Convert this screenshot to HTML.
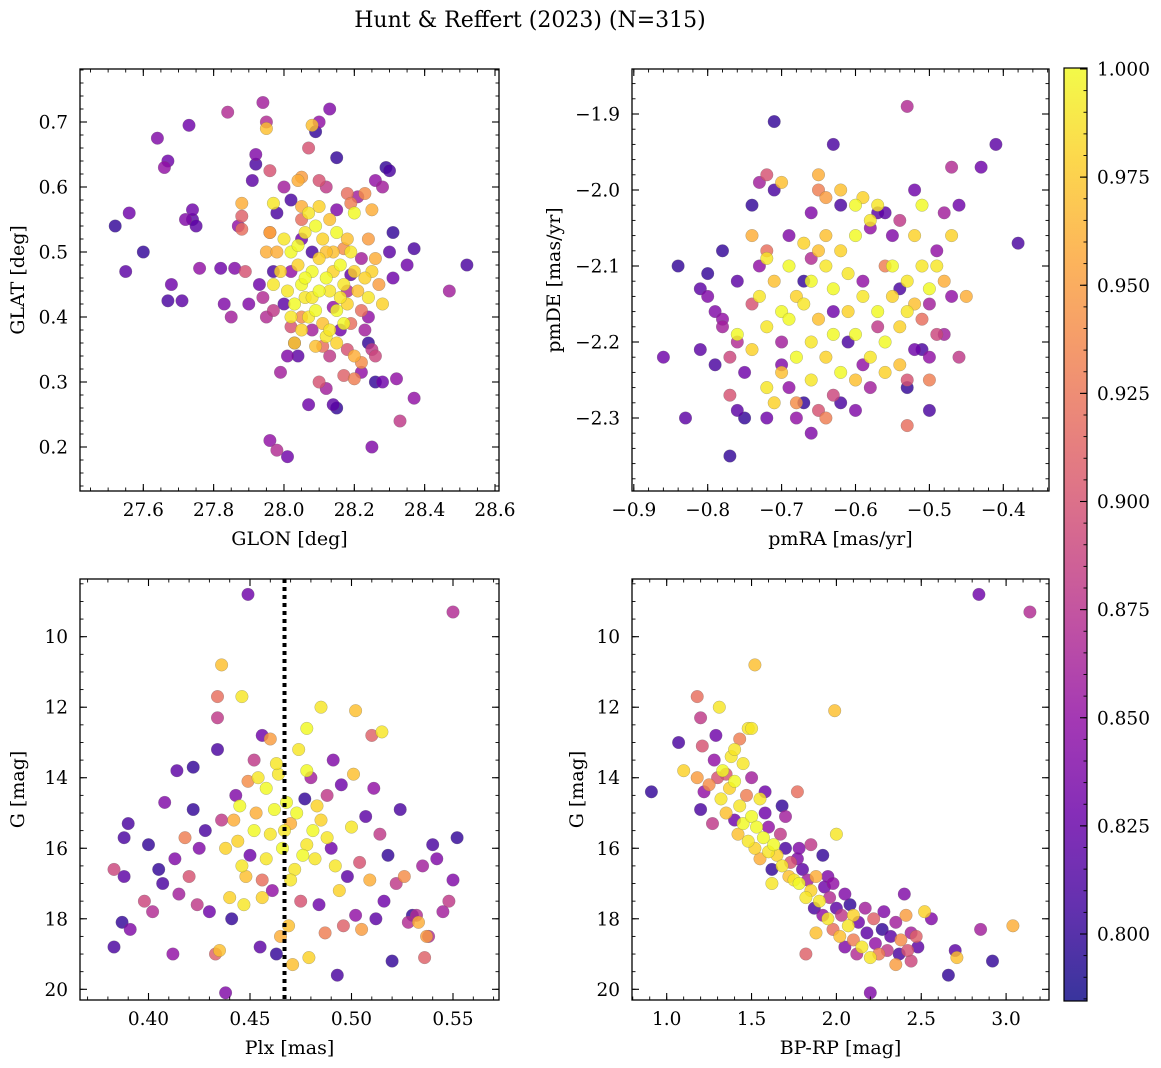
<!DOCTYPE html>
<html><head><meta charset="utf-8">
<style>
body{margin:0;background:#fff;}
svg{display:block;font-family:"DejaVu Serif","Liberation Serif",serif;}
</style></head>
<body>
<svg id="fig" width="1161" height="1068" viewBox="0 0 1161 1068">
<text x="530" y="27" text-anchor="middle" font-size="22">Hunt &amp; Reffert (2023) (N=315)</text>
</svg>
<script>
// ---- Panel 1: GLON vs GLAT ----
const p1Glon=[27.52,27.55,27.56,27.60,27.64,27.66,27.67,27.68,27.67,27.71,27.72,27.73,27.74,27.74,27.75,27.76,27.82,27.83,27.84,27.85,27.86,27.87,27.88,27.88,27.88,27.89,27.90,27.91,27.92,27.92,27.94,27.95,27.95,27.95,27.95,27.96,27.96,27.97,27.97,27.96,27.98,28.01,27.99,28.01,28.03,28.04,28.05,28.07,28.08,28.09,28.10,28.13,28.15,28.14,28.15,28.07,28.10,28.12,28.25,28.26,28.28,28.32,28.33,28.37,28.47,28.52,28.37,28.35,28.29,28.30,28.26,28.28,28.23,28.21,28.19,28.18,28.20,28.25,28.31,28.30,28.31,28.24,28.25,28.27,28.28,28.22,28.23,28.25,28.22,28.20,28.18,28.15,28.16,28.19,28.22,28.24,28.26,
28.00,28.02,28.05,28.10,28.12,28.15,28.05,27.98,28.02,28.00,28.05,28.08,28.11,28.13,28.17,28.20,28.04,28.02,27.93,27.94,27.97,28.19,28.22,28.17,28.14,28.18,28.24,28.08,
28.00,28.02,28.04,28.05,28.06,28.08,28.10,28.12,28.13,28.14,28.16,28.17,28.18,28.09,28.07,28.11,28.03,28.01,27.99,27.98,28.06,28.09,28.11,28.13,28.15,28.19,28.20,28.21,28.15,28.12,28.05,28.02,28.10,28.08,28.06,28.14,28.16,28.04,28.12,27.96,27.97,28.23,28.18,28.07,28.10,28.05,28.17,28.13,28.03,28.09,28.24,28.26];
const p1Glat=[0.54,0.47,0.56,0.50,0.675,0.63,0.64,0.45,0.425,0.425,0.55,0.695,0.55,0.565,0.54,0.475,0.475,0.42,0.715,0.40,0.475,0.54,0.575,0.555,0.535,0.47,0.42,0.61,0.65,0.635,0.73,0.69,0.70,0.50,0.40,0.625,0.53,0.575,0.47,0.21,0.195,0.185,0.315,0.34,0.36,0.61,0.615,0.66,0.695,0.685,0.70,0.72,0.645,0.265,0.26,0.265,0.30,0.29,0.20,0.30,0.30,0.305,0.24,0.275,0.44,0.48,0.505,0.48,0.63,0.625,0.61,0.60,0.59,0.585,0.575,0.59,0.56,0.565,0.53,0.50,0.46,0.52,0.47,0.45,0.42,0.41,0.38,0.35,0.33,0.34,0.35,0.36,0.38,0.39,0.315,0.36,0.34,
0.60,0.58,0.55,0.61,0.60,0.565,0.52,0.56,0.47,0.42,0.40,0.38,0.355,0.34,0.31,0.305,0.34,0.385,0.45,0.43,0.41,0.465,0.49,0.505,0.415,0.44,0.40,0.50,
0.52,0.50,0.48,0.45,0.43,0.47,0.49,0.46,0.44,0.50,0.48,0.45,0.42,0.41,0.40,0.39,0.42,0.44,0.47,0.50,0.53,0.54,0.52,0.55,0.53,0.50,0.47,0.44,0.41,0.37,0.38,0.40,0.44,0.43,0.46,0.47,0.43,0.51,0.50,0.53,0.45,0.46,0.52,0.56,0.57,0.57,0.39,0.38,0.36,0.355,0.43,0.49];
const p1Prob=[0.80,0.82,0.83,0.80,0.84,0.85,0.83,0.83,0.81,0.82,0.84,0.83,0.82,0.83,0.82,0.85,0.83,0.84,0.87,0.86,0.84,0.85,0.96,0.91,0.92,0.90,0.84,0.82,0.84,0.81,0.86,0.97,0.87,0.96,0.87,0.90,0.95,0.99,0.81,0.85,0.87,0.83,0.86,0.84,0.86,0.96,0.95,0.90,0.97,0.80,0.85,0.84,0.80,0.82,0.80,0.83,0.90,0.86,0.84,0.80,0.83,0.85,0.88,0.85,0.86,0.81,0.81,0.83,0.80,0.81,0.85,0.86,0.94,0.86,0.93,0.92,1.0,0.96,0.80,0.82,0.83,0.95,0.98,0.95,0.98,0.92,0.86,0.88,0.94,0.96,0.90,0.98,0.83,0.92,0.85,0.80,0.89,
0.86,0.81,0.92,0.90,0.88,0.84,0.83,0.81,0.85,0.82,0.94,0.86,0.92,0.88,0.91,0.93,0.82,0.90,0.83,0.87,0.88,0.82,0.86,0.94,0.85,0.87,0.85,0.81,
0.99,1.0,0.98,1.0,0.99,1.0,0.98,1.0,0.99,0.97,1.0,0.99,0.98,1.0,0.99,0.97,1.0,0.99,0.98,0.96,0.99,1.0,0.98,0.97,1.0,0.99,0.98,0.97,1.0,0.99,0.98,0.99,1.0,0.99,1.0,0.98,0.99,1.0,0.97,0.95,0.99,0.98,0.97,0.99,0.98,0.96,1.0,0.99,0.98,0.97,0.99,0.96];

// ---- Panel 2: pmRA vs pmDE ----
const p2PmRA=[-0.86,-0.84,-0.83,-0.81,-0.80,-0.80,-0.81,-0.79,-0.78,-0.78,-0.78,-0.77,-0.77,-0.76,-0.76,-0.75,-0.74,-0.73,-0.72,-0.71,-0.71,-0.70,-0.70,-0.69,-0.68,-0.67,-0.66,-0.65,-0.64,-0.65,-0.65,-0.64,-0.63,-0.62,-0.60,-0.59,-0.58,-0.57,-0.56,-0.54,-0.53,-0.53,-0.52,-0.53,-0.50,-0.49,-0.48,-0.47,-0.46,-0.43,-0.41,-0.38,-0.45,-0.46,-0.47,-0.47,-0.48,-0.50,-0.51,-0.49,-0.50,
-0.72,-0.70,-0.68,-0.66,-0.64,-0.62,-0.60,-0.58,-0.62,-0.60,-0.57,-0.59,-0.55,-0.53,-0.52,-0.50,-0.51,-0.54,-0.56,-0.58,-0.60,-0.62,-0.64,-0.66,-0.68,-0.70,-0.72,-0.71,-0.69,-0.67,-0.65,-0.63,-0.61,-0.59,-0.57,-0.55,-0.53,-0.65,-0.63,-0.61,-0.74,-0.76,-0.73,-0.71,-0.69,-0.67,-0.74,-0.72,-0.60,-0.56,-0.66,-0.64,-0.52,-0.51,-0.49,-0.48,
-0.76,-0.74,-0.73,-0.72,-0.75,-0.70,-0.69,-0.67,-0.66,-0.63,-0.61,-0.59,-0.57,-0.55,-0.54,-0.52,-0.51,-0.50,-0.53,-0.56,-0.58,-0.63,-0.68,-0.79,-0.77,-0.72,-0.66,-0.62,-0.54];
const p2PmDE=[-2.22,-2.10,-2.30,-2.13,-2.11,-2.14,-2.21,-2.23,-2.08,-2.17,-2.18,-2.35,-2.27,-2.20,-2.29,-2.30,-2.02,-1.99,-1.98,-1.91,-2.00,-1.99,-2.23,-2.26,-2.28,-2.28,-2.32,-2.29,-2.30,-1.98,-2.00,-2.01,-1.94,-2.02,-2.29,-2.23,-2.05,-2.03,-2.03,-2.23,-2.25,-2.31,-2.00,-1.89,-2.29,-2.08,-2.03,-1.97,-2.02,-1.97,-1.94,-2.07,-2.14,-2.22,-2.14,-2.06,-2.19,-2.22,-2.21,-2.19,-2.25,
-2.18,-2.16,-2.14,-2.12,-2.10,-2.08,-2.06,-2.04,-2.00,-2.02,-2.02,-2.01,-2.10,-2.12,-2.15,-2.13,-2.10,-2.18,-2.20,-2.22,-2.25,-2.24,-2.22,-2.20,-2.22,-2.24,-2.26,-2.28,-2.17,-2.15,-2.17,-2.19,-2.16,-2.14,-2.16,-2.14,-2.16,-2.08,-2.13,-2.11,-2.21,-2.19,-2.14,-2.12,-2.10,-2.07,-2.06,-2.09,-2.19,-2.24,-2.25,-2.06,-2.06,-2.02,-2.10,-2.12,
-2.12,-2.15,-2.10,-2.08,-2.24,-2.20,-2.06,-2.12,-2.09,-2.16,-2.20,-2.12,-2.18,-2.06,-2.13,-2.21,-2.17,-2.15,-2.26,-2.10,-2.26,-2.27,-2.30,-2.16,-2.22,-2.30,-2.03,-2.28,-2.04];
const p2Prob=[0.83,0.80,0.82,0.82,0.80,0.84,0.82,0.81,0.80,0.85,0.86,0.80,0.90,0.87,0.82,0.80,0.80,0.86,0.90,0.80,0.81,0.97,0.84,0.85,0.94,0.80,0.84,0.90,0.93,0.96,0.93,0.95,0.81,0.81,0.84,0.85,0.85,0.82,0.82,0.97,0.90,0.92,0.83,0.87,0.81,0.85,0.86,0.87,0.83,0.83,0.82,0.81,0.96,0.88,0.85,0.98,0.86,0.85,0.81,0.89,0.93,
0.99,1.0,0.98,1.0,0.99,0.98,1.0,0.99,0.97,1.0,0.99,0.98,1.0,0.99,0.97,1.0,0.99,0.98,1.0,0.99,0.97,1.0,0.98,0.99,1.0,0.97,0.99,0.98,1.0,0.99,0.97,1.0,0.98,0.99,1.0,0.98,0.99,0.97,1.0,0.99,0.98,1.0,0.99,0.97,1.0,0.98,0.96,0.99,1.0,0.98,0.99,0.97,0.98,1.0,0.99,0.96,
0.82,0.90,0.85,0.92,0.83,0.86,0.84,0.80,0.87,0.83,0.81,0.85,0.88,0.84,0.81,0.83,0.92,0.86,0.80,0.93,0.86,0.89,0.85,0.84,0.89,0.83,0.84,0.81,0.88];

// ---- Panel 3: Plx vs G ----
const p3Plx=[0.449,0.550,0.436,0.434,0.446,0.434,0.485,0.502,0.515,0.510,0.478,0.456,0.460,0.434,0.422,0.414,0.408,0.390,0.388,0.388,0.383,0.387,0.383,0.391,0.398,0.400,0.402,0.405,0.407,0.412,0.413,0.415,0.418,0.420,0.422,0.424,0.425,0.428,0.430,0.433,0.435,0.436,0.438,0.440,0.441,0.443,0.444,0.446,0.447,0.449,0.450,0.452,0.453,0.455,0.456,0.458,0.460,0.461,0.463,0.464,0.466,0.468,0.469,0.470,0.471,0.472,0.474,0.475,0.477,0.478,0.479,0.480,0.482,0.484,0.485,0.487,0.488,0.490,0.491,0.493,0.494,0.495,0.496,0.498,0.500,0.501,0.502,0.504,0.505,0.507,0.509,0.511,0.512,0.514,0.516,0.518,0.520,0.522,0.524,0.526,0.528,0.530,0.533,0.535,0.537,0.538,0.540,0.542,0.545,0.548,0.550,0.552,0.536,0.532,
0.445,0.452,0.458,0.462,0.467,0.473,0.476,0.481,0.483,0.470,0.456,0.448,0.442,0.463,0.478,0.488,0.492,0.465,0.438,0.454];
const p3G=[8.8,9.3,10.8,11.7,11.7,12.3,12.0,12.1,12.7,12.8,12.6,12.8,12.9,13.2,13.7,13.8,14.7,15.3,15.7,16.8,18.8,18.1,16.6,18.3,17.5,15.9,17.8,16.6,17.0,19.0,16.3,17.3,15.7,16.8,14.9,17.6,16.0,15.5,17.8,19.0,18.9,15.2,20.1,17.4,18.0,14.5,15.8,16.5,17.6,14.1,16.2,13.5,15.0,18.8,16.9,14.3,15.6,17.2,19.0,13.9,16.0,14.7,18.2,15.3,19.3,16.6,13.2,17.5,14.6,15.9,19.1,14.0,16.3,17.6,15.2,18.4,14.5,16.0,13.5,19.6,17.2,14.2,18.2,16.8,15.4,13.9,17.9,16.4,18.3,15.1,16.9,14.3,18.0,15.6,17.5,16.2,19.2,17.0,14.9,16.8,18.1,17.9,18.1,16.5,18.5,18.5,15.9,16.3,17.8,17.5,16.9,15.7,19.1,17.9,
14.8,15.5,16.3,14.9,15.5,15.0,16.2,15.5,14.8,16.9,17.4,16.8,15.2,13.6,13.8,15.7,16.5,18.5,16.0,14.0];
const p3Prob=[0.83,0.87,0.97,0.92,0.99,0.88,0.99,0.97,0.99,0.91,1.0,0.83,0.95,0.81,0.80,0.82,0.84,0.81,0.81,0.82,0.81,0.80,0.89,0.84,0.89,0.80,0.87,0.80,0.81,0.85,0.84,0.86,0.93,0.90,0.80,0.88,0.84,0.81,0.83,0.91,0.97,0.88,0.84,0.98,0.80,0.84,0.98,0.99,0.99,0.94,0.83,0.88,0.96,0.82,0.92,1.0,0.99,0.85,0.80,0.99,1.0,1.0,0.97,0.96,0.97,0.99,0.99,0.90,0.80,0.99,0.98,0.86,0.99,0.83,0.98,0.93,0.88,0.83,0.84,0.81,0.98,0.83,0.91,0.82,0.99,0.97,0.85,0.90,0.95,0.82,0.96,0.85,0.82,0.88,0.83,0.80,0.80,0.88,0.81,0.94,0.87,0.80,0.96,0.86,0.95,0.87,0.81,0.84,0.86,0.88,0.84,0.80,0.91,0.87,
1.0,1.0,0.99,1.0,0.99,1.0,1.0,1.0,0.98,0.99,0.98,0.97,0.96,0.99,1.0,0.99,0.99,0.96,0.98,0.99];
const p3PlxLine=0.467;

// ---- Panel 4: BP-RP vs G ----
const p4Bprp=[2.84,3.14,1.52,1.18,1.31,1.20,1.99,1.48,1.50,1.07,0.91,1.21,1.29,1.43,1.10,1.18,1.77,2.00,2.40,2.41,2.52,2.56,2.48,2.47,2.70,2.71,2.66,2.85,2.92,3.04,2.20,2.44,2.35,1.82,
1.20,1.22,1.25,1.27,1.30,1.32,1.33,1.35,1.37,1.38,1.40,1.40,1.42,1.43,1.45,1.45,1.47,1.48,1.50,1.50,1.52,1.53,1.55,1.55,1.57,1.58,1.60,1.60,1.62,1.63,1.65,1.67,1.68,1.70,1.72,1.73,1.75,1.77,1.78,1.80,1.82,1.83,1.85,1.87,1.88,1.90,1.92,1.93,1.95,1.96,1.98,2.00,2.02,2.03,2.05,2.07,2.08,2.10,2.12,2.13,2.15,2.17,2.18,2.20,2.22,2.23,2.25,2.27,2.28,2.30,2.32,2.35,2.37,2.38,2.42,2.44,1.92,1.95,1.88,1.78,1.70,1.68,1.58,1.62,1.85,2.05,2.10,1.98,1.40,1.35,1.28];
const p4G=[8.8,9.3,10.8,11.7,12.0,12.3,12.1,12.6,12.6,13.0,14.4,13.1,12.8,12.9,13.8,14.0,14.4,15.6,17.3,17.9,17.8,18.0,18.8,18.5,18.9,19.1,19.6,18.3,19.2,18.2,20.1,19.2,19.3,19.0,
14.9,14.4,14.2,15.3,14.0,14.6,13.8,15.0,14.3,13.4,15.2,14.1,15.6,14.8,15.3,13.6,14.5,15.8,15.1,14.0,16.0,15.4,14.6,16.3,15.7,15.0,16.1,15.4,16.6,15.9,16.2,15.6,16.5,16.0,16.8,16.4,16.9,16.3,17.0,16.6,17.4,16.9,17.2,17.7,16.8,17.5,17.9,17.1,18.0,17.4,18.3,17.7,18.5,17.9,18.8,18.2,17.6,18.6,19.0,18.1,18.8,17.7,18.4,19.1,18.0,18.7,19.0,18.3,17.8,18.9,18.5,18.1,19.0,18.6,18.9,18.4,16.2,16.8,18.4,16.0,15.1,14.8,14.4,17.0,15.9,17.3,17.9,17.0,13.2,13.9,13.5];
const p4Prob=[0.83,0.87,0.97,0.92,0.99,0.88,0.97,0.99,0.99,0.81,0.80,0.90,0.83,0.93,0.98,0.95,0.92,0.99,0.84,0.95,0.98,0.84,0.82,0.91,0.82,0.97,0.80,0.86,0.80,0.96,0.84,0.89,0.95,0.91,
0.81,0.85,0.94,0.88,0.90,0.99,1.0,0.97,0.98,0.99,0.83,1.0,0.97,0.99,1.0,0.99,0.93,0.99,1.0,0.86,0.98,1.0,0.99,0.96,1.0,0.83,0.99,0.85,0.80,1.0,0.98,0.88,0.99,0.81,0.97,0.90,0.99,0.84,1.0,0.82,0.99,0.86,0.98,0.81,0.96,0.99,0.85,0.83,0.99,0.87,0.92,0.82,0.97,0.88,0.84,0.99,0.80,0.93,0.87,0.83,0.99,0.86,0.82,0.99,0.91,0.85,0.93,0.80,0.84,0.88,0.82,0.86,0.81,0.94,0.90,0.86,0.80,0.84,0.97,0.84,0.86,0.80,0.83,0.99,0.88,0.84,0.98,0.85,0.99,0.90,0.85];

// ---- colorbar ----
const cbTicks=[0.800,0.825,0.850,0.875,0.900,0.925,0.950,0.975,1.000];
const cbMin=0.7845, cbMax=1.0;

const NS="http://www.w3.org/2000/svg";
const svg=document.getElementById('fig');
const TF=18.5, AF=19;
function el(tag,attrs,parent){const e=document.createElementNS(NS,tag);for(const k in attrs)e.setAttribute(k,attrs[k]);(parent||svg).appendChild(e);return e;}
const stops=["#0d0887","#41049d","#6a00a8","#8f0da4","#b12a90","#cc4778","#e16462","#f2844b","#fca636","#fcce25","#f0f921"];
function hex(h){return [1,3,5].map(i=>parseInt(h.substr(i,2),16));}
function plasma(t){t=Math.max(0,Math.min(1,t));const f=t*10,i=Math.min(9,Math.floor(f)),r=f-i;const a=hex(stops[i]),b=hex(stops[i+1]);return "rgb("+a.map((v,k)=>Math.round(v+(b[k]-v)*r)).join(",")+")";}
function cmap(v){return plasma((v-cbMin)/(cbMax-cbMin));}

function panel(o){
  const g=el('g',{});
  
  
  const sx=v=>o.x0p+(v-o.x0v)*o.xs, sy=v=>o.y0p+(v-o.y0v)*o.ys;
  const L=o.L,R=o.R,T=o.T,B=o.B;
  const idx=o.xs_.map((_,i)=>i).sort((a,b)=>o.c[a]-o.c[b]);
  const cp=el('clipPath',{id:'cp'+o.name},g);el('rect',{x:L,y:T,width:R-L,height:B-T},cp);
  const pg=el('g',{'clip-path':'url(#cp'+o.name+')'},g);
  idx.forEach(i=>{
    const c=el('circle',{cx:sx(o.xs_[i]).toFixed(1),cy:sy(o.ys_[i]).toFixed(1),r:6.3,fill:cmap(o.c[i]),'fill-opacity':0.82,stroke:'#666','stroke-width':0.4,'stroke-opacity':0.6},pg);
    
    
  });
  if(o.vline!==undefined){
    const ln=el('line',{x1:sx(o.vline),x2:sx(o.vline),y1:T,y2:B,stroke:'#000','stroke-width':4,'stroke-dasharray':'4,4'},g);
    
    
  }
  el('rect',{x:L,y:T,width:R-L,height:B-T,fill:'none',stroke:'#000','stroke-width':1.3},g);
  for(let k=Math.ceil(o.xmin/o.xminor-1e-6);k*o.xminor<=o.xmax+1e-9;k++){
    const v=k*o.xminor,p=sx(v); if(p<L-0.5||p>R+0.5) continue;
    el('line',{x1:p,x2:p,y1:B,y2:B-3.5,stroke:'#000','stroke-width':0.9},g);
    el('line',{x1:p,x2:p,y1:T,y2:T+3.5,stroke:'#000','stroke-width':0.9},g);
  }
  o.xt.forEach(v=>{const p=sx(v);
    el('line',{x1:p,x2:p,y1:B,y2:B-7,stroke:'#000','stroke-width':1.1},g);
    el('line',{x1:p,x2:p,y1:T,y2:T+7,stroke:'#000','stroke-width':1.1},g);
    const t=el('text',{x:p,y:B+25,'text-anchor':'middle','font-size':TF},g);t.textContent=v.toFixed(o.xd).replace('-','−');
    });
  for(let k=Math.ceil(o.ymin/o.yminor-1e-6);k*o.yminor<=o.ymax+1e-9;k++){
    const v=k*o.yminor,p=sy(v); if(p<T-0.5||p>B+0.5) continue;
    el('line',{x1:L,x2:L+3.5,y1:p,y2:p,stroke:'#000','stroke-width':0.9},g);
    el('line',{x1:R,x2:R-3.5,y1:p,y2:p,stroke:'#000','stroke-width':0.9},g);
  }
  o.yt.forEach(v=>{const p=sy(v);
    el('line',{x1:L,x2:L+7,y1:p,y2:p,stroke:'#000','stroke-width':1.1},g);
    el('line',{x1:R,x2:R-7,y1:p,y2:p,stroke:'#000','stroke-width':1.1},g);
    const t=el('text',{x:L-12,y:p+6.5,'text-anchor':'end','font-size':TF},g);t.textContent=v.toFixed(o.yd).replace('-','−');
    });
  const xl=el('text',{x:(L+R)/2,y:B+54,'text-anchor':'middle','font-size':AF},g);xl.textContent=o.xlabel;
  
  const yl=el('text',{x:0,y:0,'text-anchor':'middle','font-size':AF,transform:`translate(${o.ylx},${(T+B)/2}) rotate(-90)`},g);yl.textContent=o.ylabel;
  
}

panel({name:'glon-glat-panel',L:80,R:499,T:69,B:491,x0p:143.3,x0v:27.6,xs:351.7,y0p:122,y0v:0.7,ys:-650,
 xs_:p1Glon,ys_:p1Glat,c:p1Prob,xt:[27.6,27.8,28.0,28.2,28.4,28.6],xd:1,xmin:27.4,xmax:28.7,xminor:0.05,
 yt:[0.2,0.3,0.4,0.5,0.6,0.7],yd:1,ymin:0.1,ymax:0.8,yminor:0.02,xlabel:'GLON [deg]',ylabel:'GLAT [deg]',ylx:24});
panel({name:'proper-motion-panel',L:632,R:1049,T:69,B:491,x0p:633.8,x0v:-0.9,xs:739,y0p:114,y0v:-1.9,ys:-760,
 xs_:p2PmRA,ys_:p2PmDE,c:p2Prob,xt:[-0.9,-0.8,-0.7,-0.6,-0.5,-0.4],xd:1,xmin:-1.0,xmax:-0.3,xminor:0.02,
 yt:[-1.9,-2.0,-2.1,-2.2,-2.3],yd:1,ymin:-2.4,ymax:-1.8,yminor:0.02,xlabel:'pmRA [mas/yr]',ylabel:'pmDE [mas/yr]',ylx:560});
panel({name:'plx-g-panel',L:80,R:499,T:579,B:1000,x0p:148.5,x0v:0.4,xs:2030,y0p:636.7,y0v:10,ys:35.26,
 xs_:p3Plx,ys_:p3G,c:p3Prob,xt:[0.40,0.45,0.50,0.55],xd:2,xmin:0.35,xmax:0.60,xminor:0.01,
 yt:[10,12,14,16,18,20],yd:0,ymin:8,ymax:21,yminor:0.5,xlabel:'Plx [mas]',ylabel:'G [mag]',ylx:24,vline:p3PlxLine});
panel({name:'cmd-panel',L:632,R:1049,T:579,B:1000,x0p:666.7,x0v:1.0,xs:169.7,y0p:636.7,y0v:10,ys:35.26,
 xs_:p4Bprp,ys_:p4G,c:p4Prob,xt:[1.0,1.5,2.0,2.5,3.0],xd:1,xmin:0.8,xmax:3.3,xminor:0.1,
 yt:[10,12,14,16,18,20],yd:0,ymin:8,ymax:21,yminor:0.5,xlabel:'BP-RP [mag]',ylabel:'G [mag]',ylx:583});

(function(){
  const L=1064,R=1087,T=68,B=1001;
  const cy=v=>69+(1.0-v)*4325;
  const g=el('g',{});
  
  
  const defs=el('defs',{},g);
  const lg=el('linearGradient',{id:'cbg',x1:0,y1:1,x2:0,y2:0},defs);
  for(let i=0;i<=20;i++){el('stop',{offset:i/20,'stop-color':plasma(i/20),'stop-opacity':0.82},lg);}
  el('rect',{x:L,y:T,width:R-L,height:B-T,fill:'url(#cbg)',stroke:'#000','stroke-width':1.2},g);
  for(let v=0.785;v<=1.0001;v+=0.005){const p=cy(v);if(p<T||p>B)continue;el('line',{x1:R,x2:R-3.5,y1:p,y2:p,stroke:'#000','stroke-width':0.9},g);}
  cbTicks.forEach(v=>{const p=cy(v);
    el('line',{x1:R,x2:R-7,y1:p,y2:p,stroke:'#000','stroke-width':1.1},g);
    const t=el('text',{x:R+10,y:p+6.5,'font-size':TF},g);t.textContent=v.toFixed(3);
    });
})();
</script>
</body></html>
